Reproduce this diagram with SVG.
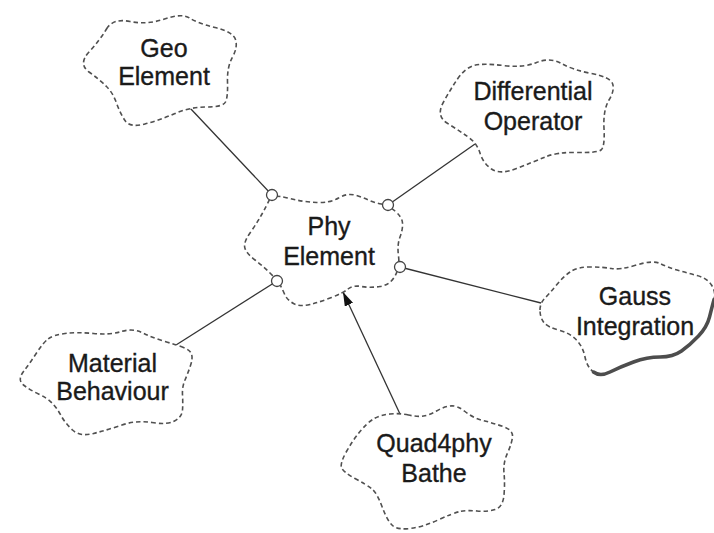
<svg xmlns="http://www.w3.org/2000/svg" width="714" height="533" viewBox="0 0 714 533">
<style>
.cloud{fill:#fff;stroke:#505050;stroke-width:1.6;stroke-dasharray:4.5 3;}
.lbl{font-family:"Liberation Sans",Arial,sans-serif;font-size:25px;fill:#1a1a1a;stroke:#1a1a1a;stroke-width:0.35;text-anchor:middle;}
.con{stroke:#333;stroke-width:1.3;fill:none;}
.port{fill:#fff;stroke:#444;stroke-width:1.3;}
.shadow{fill:none;stroke:#4d4d4d;stroke-width:3.5;stroke-linecap:round;}
</style>
<defs>
<marker id="arr" viewBox="0 0 14 9" refX="14" refY="4.5" markerWidth="14" markerHeight="9" markerUnits="userSpaceOnUse" orient="auto">
<path d="M0,0 L14,4.5 L0,9 z" fill="#111"/>
</marker>
</defs>
<rect width="714" height="533" fill="#fff"/>

<g id="connectors">
<line class="con" x1="190" y1="108" x2="272" y2="195"/>
<line class="con" x1="475" y1="144" x2="388" y2="205"/>
<line class="con" x1="400" y1="267" x2="541" y2="303"/>
<line class="con" x1="277" y1="281" x2="176" y2="345"/>
<line class="con" x1="400" y1="414" x2="343" y2="292" marker-end="url(#arr)"/>
</g>

<g id="geo-element">
<path class="cloud" d="M106.5,29 Q113,18 130,21.5 Q147,25 164.5,19 Q182,13 189.5,18 Q197,23 215,27.5 Q233,32 235.5,39.5 Q238,47 232.5,57 Q227,67 227.5,82 Q228,97 225.5,102 Q223,107 206.5,107 Q190,107 175,113.5 Q160,120 145,124 Q130,128 125,120.5 Q120,113 116.5,103 Q113,93 106.5,86.5 Q100,80 89,72 Q78,64 89,52 Q100,40 106.5,29 Z"/>
<text class="lbl" x="164" y="57">Geo</text>
<text class="lbl" x="164" y="85">Element</text>
</g>

<g id="differential-operator">
<path class="cloud" d="M457.5,79 Q465,68 474,65.5 Q483,63 503,65.5 Q523,68 536.5,62.5 Q550,57 561.5,63.5 Q573,70 591.5,73.5 Q610,77 612.5,83.5 Q615,90 609,100 Q603,110 604,128.5 Q605,147 601,150 Q597,153 577,152.5 Q557,152 545,157 Q533,162 516.5,168.5 Q500,175 491.5,169 Q483,163 480,153 Q477,143 467.5,136.5 Q458,130 447,123 Q436,116 443,103 Q450,90 457.5,79 Z"/>
<text class="lbl" x="533" y="100">Differential</text>
<text class="lbl" x="533" y="130">Operator</text>
</g>

<g id="phy-element">
<path class="cloud" d="M269.5,199.5 Q272,194 287.5,198 Q303,202 316.5,202.5 Q330,203 338.5,198 Q347,193 354.5,195 Q362,197 368.5,200 Q375,203 381.5,204 Q388,205 395,211 Q402,217 402.5,223 Q403,229 400,237 Q397,245 398.5,256 Q400,267 395,276 Q390,285 380,286.5 Q370,288 361.5,286.5 Q353,285 348,289 Q343,293 331.5,297.5 Q320,302 310,304.5 Q300,307 293.5,303.5 Q287,300 284.5,294 Q282,288 279.5,284 Q277,280 270,273 Q263,266 255,260 Q247,254 245,248.5 Q243,243 250,233 Q257,223 262,214 Q267,205 269.5,199.5 Z"/>
<text class="lbl" x="329" y="235">Phy</text>
<text class="lbl" x="329" y="265">Element</text>
<circle class="port" cx="272" cy="195" r="5.5"/>
<circle class="port" cx="388" cy="205" r="5.5"/>
<circle class="port" cx="400" cy="267" r="5.5"/>
<circle class="port" cx="277" cy="281" r="5.5"/>
</g>

<g id="gauss-integration">
<path class="cloud" d="M540,310 Q540,303 545,298 Q550,293 556.5,285 Q563,277 570,272 Q577,267 590,267 Q603,267 611.5,268.5 Q620,270 636.5,265 Q653,260 660,263.5 Q667,267 677,270 Q687,273 697,275.5 Q707,278 711.5,285 Q716,292 714,299.5 Q712,307 709.5,317 Q707,327 698.5,336 Q690,345 681.5,351 Q673,357 660,357 Q647,357 633.5,362 Q620,367 610,372 Q600,377 593.5,372 Q587,367 585,357 Q583,347 576.5,340 Q570,333 558.5,330 Q547,327 543.5,322 Q540,317 540,310 Z"/>
<path class="shadow" d="M714,299.5 Q712,307 709.5,317 Q707,327 698.5,336 Q690,345 681.5,351 Q673,357 660,357 Q647,357 633.5,362 Q620,367 610,372 Q600,377 593.5,372"/>
<text class="lbl" x="635" y="305">Gauss</text>
<text class="lbl" x="635" y="335">Integration</text>
</g>

<g id="material-behaviour">
<path class="cloud" d="M183.5,347.5 Q177,345 165,341.5 Q153,338 143,333 Q133,328 121.5,331.5 Q110,335 93.5,333.5 Q77,332 65,333.5 Q53,335 48,339 Q43,343 36.5,353 Q30,363 23.5,371.5 Q17,380 23.5,385 Q30,390 38.5,394 Q47,398 52,403 Q57,408 61,415.5 Q65,423 72.5,430 Q80,437 93.5,433.5 Q107,430 122,425 Q137,420 152,422.5 Q167,425 174.5,421 Q182,417 182.5,410 Q183,403 182.5,395 Q182,387 185,380 Q188,373 190.5,365.5 Q193,358 191.5,354 Q190,350 183.5,347.5 Z"/>
<text class="lbl" x="112.5" y="372">Material</text>
<text class="lbl" x="112.5" y="400">Behaviour</text>
</g>

<g id="quad4phy-bathe">
<path class="cloud" d="M408.5,415 Q400,413 390,414 Q380,415 373.5,419 Q367,423 360,431.5 Q353,440 346.5,451.5 Q340,463 341.5,467.5 Q343,472 355,478.5 Q367,485 372,489 Q377,493 382,506.5 Q387,520 392,525 Q397,530 410,528.5 Q423,527 438,520 Q453,513 460,511.5 Q467,510 477,511 Q487,512 495,509.5 Q503,507 504,495 Q505,483 504,473 Q503,463 507.5,453 Q512,443 512.5,436.5 Q513,430 503,426.5 Q493,423 483,420.5 Q473,418 465,411.5 Q457,405 450,406 Q443,407 436.5,411 Q430,415 423.5,416 Q417,417 408.5,415 Z"/>
<text class="lbl" x="434" y="452">Quad4phy</text>
<text class="lbl" x="434" y="482">Bathe</text>
</g>
</svg>
